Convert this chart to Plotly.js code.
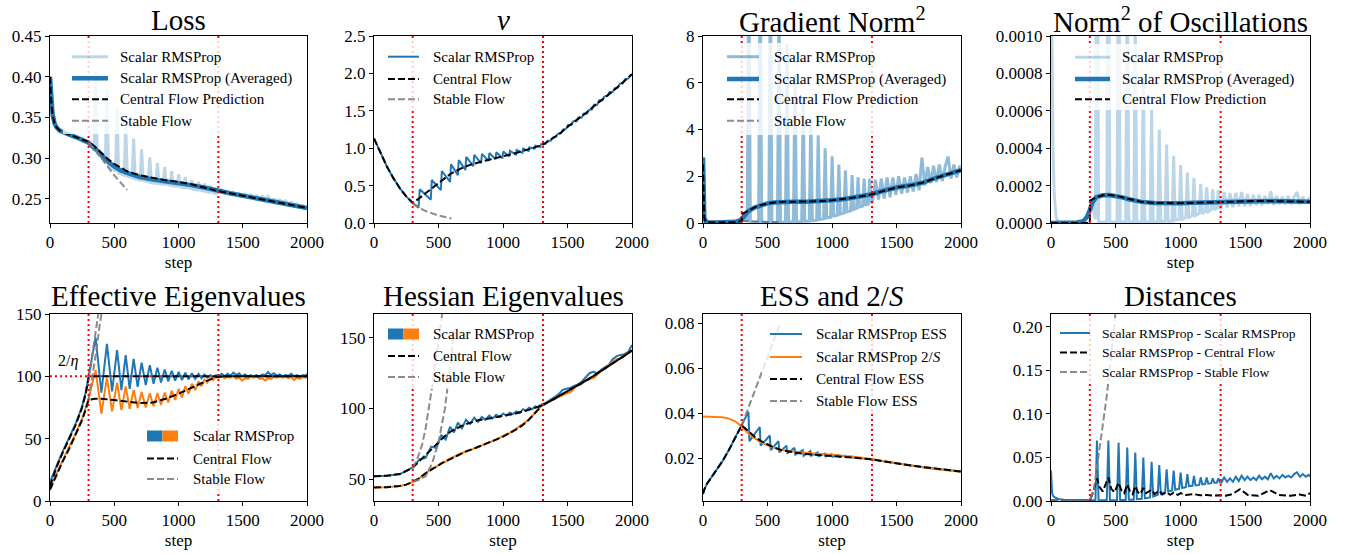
<!DOCTYPE html>
<html><head><meta charset="utf-8">
<script src="https://cdn.plot.ly/plotly-3.0.1.min.js"></script>
<style>html,body{margin:0;padding:0;background:#fff}#chart{width:1346px;height:554px}</style>
</head><body><div id="chart"></div>
<script>
// ---------------- data (step, value) ----------------
const XTICKS = [0, 500, 1000, 1500, 2000];
const XTICKTEXT = ['0', '500', '1000', '1500', '2000'];
const REGIME_STEPS = [300, 1310];

// Loss
const lossRaw = [[0,0.400],[5,0.382],[10,0.370],[20,0.354],[35,0.343],[50,0.338],[75,0.334],[100,0.332],[150,0.329],[200,0.326],[250,0.323],[300,0.319],[343,0.309],[355,0.406],[367,0.306],[431,0.296],[443,0.384],[455,0.291],[510,0.284],[522,0.361],[534,0.282],[577,0.279],[589,0.342],[601,0.278],[639,0.276],[651,0.324],[663,0.275],[701,0.273],[713,0.311],[725,0.273],[765,0.271],[777,0.301],[789,0.270],[824,0.269],[836,0.294],[848,0.269],[881,0.268],[893,0.289],[905,0.268],[935,0.267],[947,0.284],[959,0.266],[989,0.266],[1001,0.280],[1013,0.265],[1041,0.264],[1053,0.277],[1065,0.264],[1092,0.263],[1104,0.273],[1116,0.262],[1144,0.261],[1156,0.271],[1168,0.261],[1190,0.260],[1202,0.269],[1214,0.259],[1237,0.258],[1249,0.266],[1261,0.258],[1280,0.257],[1292,0.264],[1304,0.257],[1315,0.258],[1337,0.261],[1360,0.257],[1382,0.259],[1405,0.256],[1427,0.258],[1450,0.255],[1472,0.257],[1495,0.254],[1517,0.256],[1540,0.253],[1562,0.255],[1585,0.252],[1607,0.254],[1630,0.251],[1652,0.253],[1675,0.250],[1697,0.253],[1720,0.248],[1742,0.250],[1765,0.247],[1787,0.249],[1810,0.246],[1832,0.248],[1855,0.244],[1877,0.246],[1900,0.243],[1922,0.244],[1945,0.241],[1967,0.242],[1990,0.239],[2000,0.240]];
const lossAvg = [[0,0.400],[5,0.382],[10,0.370],[20,0.354],[35,0.343],[50,0.338],[75,0.334],[100,0.332],[150,0.329],[200,0.326],[250,0.323],[300,0.319],[350,0.312],[400,0.304],[450,0.296],[500,0.290],[550,0.285],[600,0.282],[700,0.277],[800,0.274],[900,0.272],[1000,0.270],[1100,0.267],[1200,0.264],[1300,0.260],[1400,0.257],[1500,0.254],[1600,0.251],[1700,0.248],[1800,0.245],[1900,0.242],[2000,0.239]];
const lossCentral = [[0,0.400],[5,0.382],[10,0.370],[20,0.354],[35,0.343],[50,0.338],[75,0.334],[100,0.332],[150,0.329],[200,0.326],[250,0.323],[300,0.320],[350,0.314],[400,0.306],[450,0.299],[500,0.293],[550,0.288],[600,0.284],[700,0.279],[800,0.276],[900,0.273],[1000,0.271],[1100,0.268],[1200,0.264],[1300,0.260],[1400,0.257],[1500,0.254],[1600,0.251],[1700,0.248],[1800,0.245],[1900,0.242],[2000,0.239]];
const lossStable = [[300,0.319],[350,0.311],[400,0.300],[450,0.289],[500,0.279],[550,0.270],[600,0.261]];

// nu
const nuRaw = [[0,1.13],[50,0.94],[100,0.755],[150,0.60],[200,0.465],[250,0.355],[300,0.265],[345,0.205],[355,0.45],[440,0.31],[448,0.575],[518,0.44],[526,0.695],[590,0.55],[597,0.785],[650,0.64],[657,0.84],[708,0.71],[715,0.885],[770,0.76],[777,0.91],[830,0.80],[837,0.925],[888,0.83],[894,0.935],[942,0.85],[948,0.945],[996,0.865],[1002,0.955],[1048,0.89],[1054,0.965],[1100,0.915],[1106,0.975],[1150,0.94],[1156,0.995],[1198,0.965],[1204,1.01],[1245,0.995],[1251,1.035],[1290,1.02],[1296,1.055],[1330,1.06],[1345,1.10],[1370,1.10],[1385,1.14],[1410,1.15],[1425,1.19],[1450,1.20],[1465,1.25],[1490,1.26],[1505,1.31],[1530,1.31],[1545,1.36],[1570,1.36],[1585,1.41],[1610,1.41],[1625,1.46],[1650,1.46],[1665,1.51],[1690,1.52],[1705,1.58],[1730,1.58],[1745,1.64],[1770,1.64],[1785,1.69],[1810,1.70],[1825,1.75],[1850,1.75],[1865,1.80],[1890,1.81],[1905,1.86],[1930,1.87],[1945,1.92],[1970,1.93],[1985,1.97],[2000,1.99]];
const nuCentral = [[0,1.13],[50,0.94],[100,0.755],[150,0.60],[200,0.465],[250,0.355],[300,0.27],[350,0.33],[400,0.40],[450,0.465],[500,0.53],[550,0.60],[600,0.665],[650,0.71],[700,0.75],[750,0.78],[800,0.81],[850,0.83],[900,0.85],[950,0.87],[1000,0.885],[1050,0.91],[1100,0.935],[1150,0.96],[1200,0.985],[1250,1.01],[1300,1.04],[1350,1.09],[1400,1.15],[1450,1.21],[1500,1.285],[1550,1.35],[1600,1.41],[1650,1.48],[1700,1.555],[1750,1.62],[1800,1.69],[1850,1.76],[1900,1.835],[1950,1.91],[2000,1.99]];
const nuStable = [[300,0.265],[350,0.205],[400,0.16],[450,0.125],[500,0.10],[550,0.08],[600,0.06]];

// Gradient norm^2
const gradRaw = [[0,2.8],[3,1.6],[6,0.7],[10,0.25],[20,0.08],[40,0.03],[100,0.02],[200,0.03],[250,0.05],[280,0.09],[300,0.12],[320,0.2],[343,0.08],[355,12],[367,0.02],[431,0.02],[443,12],[455,0.02],[510,0.02],[522,11],[534,0.02],[577,0.03],[589,9.8],[601,0.03],[639,0.03],[651,7.65],[663,0.05],[701,0.05],[713,6.4],[725,0.05],[765,0.06],[777,5.3],[789,0.08],[824,0.08],[836,4.5],[848,0.1],[881,0.12],[893,3.75],[905,0.15],[935,0.18],[947,3.2],[959,0.22],[989,0.25],[1001,2.85],[1013,0.3],[1041,0.33],[1053,2.5],[1065,0.38],[1092,0.42],[1104,2.25],[1116,0.48],[1144,0.52],[1156,2.05],[1168,0.58],[1190,0.62],[1202,1.95],[1214,0.68],[1237,0.72],[1249,1.9],[1261,0.78],[1280,0.8],[1292,1.9],[1304,0.85],[1315,0.95],[1337,1.85],[1360,1.0],[1382,1.9],[1405,1.05],[1427,1.95],[1450,1.1],[1472,1.95],[1495,1.2],[1517,2.0],[1540,1.25],[1562,1.95],[1585,1.3],[1607,2.0],[1630,1.35],[1652,2.1],[1675,1.4],[1697,2.8],[1720,1.6],[1742,2.4],[1765,1.7],[1787,2.45],[1810,1.75],[1832,2.5],[1855,1.8],[1877,2.4],[1900,2.85],[1922,1.9],[1945,2.5],[1967,1.95],[1990,2.45],[2000,2.2]];
const gradAvg = [[0,2.8],[3,1.6],[6,0.7],[10,0.25],[20,0.08],[40,0.03],[100,0.02],[200,0.03],[250,0.05],[280,0.1],[300,0.17],[320,0.3],[350,0.5],[400,0.66],[450,0.77],[500,0.84],[550,0.88],[600,0.90],[700,0.91],[800,0.91],[900,0.93],[1000,0.97],[1100,1.03],[1200,1.11],[1300,1.22],[1400,1.38],[1500,1.52],[1600,1.60],[1700,1.72],[1800,1.92],[1900,2.08],[2000,2.26]];
const gradCentral = [[0,2.5],[3,1.5],[6,0.6],[10,0.22],[20,0.07],[40,0.03],[100,0.02],[200,0.025],[250,0.04],[290,0.07],[300,0.09],[301,0.38],[350,0.53],[400,0.67],[450,0.77],[500,0.84],[550,0.88],[600,0.90],[700,0.91],[800,0.91],[900,0.93],[1000,0.97],[1100,1.03],[1200,1.11],[1300,1.22],[1400,1.38],[1500,1.52],[1600,1.60],[1700,1.72],[1800,1.92],[1900,2.08],[2000,2.26]];
const gradStable = [[300,0.09],[400,0.06],[500,0.04],[600,0.03]];

// Norm^2 of oscillations
const oscRaw = [[0,0.0016],[8,0.0008],[15,0.0004],[25,0.00015],[40,0.00003],[60,0],[150,0],[200,0.000004],[250,0.00001],[280,0.00003],[300,0.00006],[320,0.0001],[343,0.00002],[355,0.003],[367,0.000005],[431,0.000005],[443,0.0025],[455,0.000005],[510,0.000005],[522,0.002],[534,0.000005],[577,0.000005],[589,0.0015],[601,0.000005],[639,0.000005],[651,0.0011],[663,0.000005],[701,0.000005],[713,0.00078],[725,0.000005],[765,0.000005],[777,0.00061],[789,0.000005],[824,0.000005],[836,0.0005],[848,0.000005],[881,0.00001],[893,0.00042],[905,0.00001],[935,0.00001],[947,0.00036],[959,0.000015],[989,0.00002],[1001,0.00031],[1013,0.00002],[1041,0.00003],[1053,0.00027],[1065,0.00003],[1092,0.00004],[1104,0.00024],[1116,0.00004],[1144,0.00005],[1156,0.00021],[1168,0.00005],[1190,0.00006],[1202,0.00019],[1214,0.00006],[1237,0.00007],[1249,0.00018],[1261,0.00007],[1280,0.00008],[1292,0.000175],[1304,0.00008],[1315,0.00008],[1337,0.000165],[1360,0.00008],[1382,0.00016],[1405,0.000085],[1427,0.00016],[1450,0.00009],[1472,0.000165],[1495,0.00009],[1517,0.000155],[1540,0.00009],[1562,0.00015],[1585,0.000095],[1607,0.00015],[1630,0.000095],[1652,0.000145],[1675,0.0001],[1697,0.00017],[1720,0.000095],[1742,0.000145],[1765,0.0001],[1787,0.00014],[1810,0.0001],[1832,0.000145],[1855,0.0001],[1877,0.00014],[1900,0.000165],[1922,0.0001],[1945,0.00014],[1967,0.000105],[1990,0.00013],[2000,0.00012]];
const oscAvg = [[0,0],[150,0],[200,0.000003],[250,0.00001],[280,0.000035],[300,0.00007],[320,0.00011],[350,0.000138],[400,0.000148],[450,0.00015],[500,0.000146],[550,0.000137],[600,0.000127],[700,0.000113],[800,0.000107],[900,0.000105],[1000,0.000106],[1100,0.000108],[1200,0.00011],[1300,0.000113],[1400,0.000116],[1500,0.000118],[1600,0.000118],[1700,0.000117],[1800,0.000116],[1900,0.000115],[2000,0.000113]];
const oscCentral = [[0,0],[300,0],[301,0.00012],[350,0.000138],[400,0.000148],[450,0.00015],[500,0.000146],[550,0.000137],[600,0.000127],[700,0.000113],[800,0.000107],[900,0.000105],[1000,0.000106],[1100,0.000108],[1200,0.00011],[1300,0.000113],[1400,0.000116],[1500,0.000118],[1600,0.000118],[1700,0.000117],[1800,0.000116],[1900,0.000115],[2000,0.000113]];

// Effective eigenvalues
const effTop = [[0,15],[25,22],[50,28],[100,40],[150,51],[200,62],[250,76],[280,88],[300,100],[355,131],[400,87],[443,126],[483,88],[522,121],[556,89],[589,117],[620,90],[651,114],[682,91.5],[713,111],[745,93],[777,109],[806,94],[836,107],[864,95],[893,105.5],[920,96],[947,104.5],[974,96.5],[1001,103.5],[1027,97],[1053,103],[1078,97.5],[1104,102.5],[1130,98],[1156,102],[1179,98.5],[1202,101.5],[1225,99],[1249,101],[1270,99],[1292,101],[1315,100],[1337,102],[1360,100],[1382,102],[1405,100.5],[1427,103],[1450,101],[1472,102.5],[1495,100],[1517,101.5],[1540,100],[1562,101],[1585,99.5],[1607,101],[1630,100],[1652,101.5],[1675,101],[1697,103.5],[1720,101],[1742,102.5],[1765,100.5],[1787,101.5],[1810,100],[1832,101],[1855,100.5],[1877,102],[1900,100],[1922,101],[1945,99.5],[1967,101],[1990,100.5],[2000,102]];
const effSecond = [[0,11],[25,17],[50,22],[100,33],[150,43],[200,54],[250,66],[280,75],[300,82],[355,105],[400,70],[443,99],[483,72],[522,95],[556,73],[589,92],[620,74],[651,89],[682,74.5],[713,87.5],[745,75],[777,86.5],[806,76],[836,86.5],[864,77],[893,87],[920,79],[947,88.5],[974,81],[1001,90],[1027,83],[1053,92],[1078,86],[1104,94],[1130,89],[1156,96],[1179,92],[1202,97.5],[1225,95],[1249,99],[1270,97],[1292,100],[1315,99],[1337,100],[1360,98.5],[1382,100],[1405,99],[1427,100.5],[1450,98],[1472,99],[1495,96.5],[1517,98.5],[1540,98],[1562,100],[1585,99],[1607,100],[1630,98],[1652,98.5],[1675,96.5],[1697,98.5],[1720,98],[1742,99.5],[1765,99],[1787,100],[1810,99],[1832,100],[1855,98.5],[1877,99.5],[1900,97],[1922,99],[1945,98],[1967,99.5],[1990,99],[2000,100]];
const effCentralTop = [[0,12],[25,20],[50,27],[100,39],[150,50],[200,61],[250,75],[280,87],[300,99],[310,100],[1000,100],[2000,100]];
const effCentralSecond = [[0,9],[25,15],[50,21],[100,32],[150,42],[200,53],[250,65],[280,74],[300,81],[350,82],[400,82],[500,81],[600,79.5],[700,78.5],[800,79],[900,82],[1000,86],[1100,91],[1200,95.5],[1300,99.5],[1350,100],[2000,100]];
const effStableTop = [[300,99],[320,110],[340,125],[360,140],[380,153]];
const effStableSecond = [[300,81],[330,100],[360,120],[385,140],[405,153]];
const EFF_THRESHOLD = 100; // 2/eta

// Hessian eigenvalues
const hessTop = [[0,52],[100,52.3],[200,53.5],[250,55.5],[300,58.5],[355,64],[400,65],[443,73],[483,72],[522,81],[556,78],[589,87],[620,83],[651,90],[682,86],[713,92],[745,89],[777,93.5],[806,90.5],[836,94],[864,92],[893,95],[920,93],[947,95.5],[974,94],[1001,96.5],[1027,95],[1053,97],[1078,96],[1104,98],[1130,97],[1156,99.5],[1179,98.5],[1202,100.5],[1225,99.5],[1249,101.5],[1270,101],[1292,102.5],[1330,104],[1370,106],[1400,108],[1430,110],[1460,113],[1490,114],[1520,114.5],[1550,116],[1580,117],[1610,119],[1640,122],[1670,125],[1700,126],[1730,125],[1760,127.5],[1790,129],[1820,131],[1850,135],[1880,137],[1910,138],[1940,138.5],[1970,140],[2000,145]];
const hessSecond = [[0,44],[100,44.2],[200,45],[250,46],[300,48],[350,50.5],[400,54],[450,57.5],[480,58.5],[520,61],[560,62.5],[600,65],[640,66.5],[680,68.5],[720,70],[760,71],[800,72.5],[850,74.5],[900,76.5],[950,78],[1000,80.5],[1050,82.5],[1100,85.5],[1150,88.5],[1200,92],[1250,97],[1300,102],[1350,104.5],[1400,107],[1450,109],[1500,111],[1530,112],[1560,115.5],[1600,117],[1650,120],[1680,121],[1710,122],[1740,125],[1780,127.5],[1820,130.5],[1850,133],[1880,135],[1910,135.5],[1940,137],[1970,139.5],[2000,141.5]];
const hessCentralTop = [[0,52],[100,52.3],[200,53.5],[250,55.5],[300,58],[350,62.5],[400,67],[450,71.5],[500,76],[550,80.5],[600,84],[650,86.5],[700,88.5],[750,90],[800,91.5],[900,93],[1000,94.5],[1100,96.5],[1200,99],[1300,102],[1400,107],[1500,112],[1600,117.5],[1700,123],[1800,129],[1900,135],[2000,141]];
const hessCentralSecond = [[0,44],[100,44.2],[200,45],[250,46],[300,48],[350,50.5],[400,54],[450,57],[500,60],[550,62.5],[600,64.5],[650,67],[700,69],[800,72.5],[900,76],[1000,80],[1100,85],[1150,88],[1200,92],[1250,97],[1300,102],[1400,107],[1500,112],[1600,117.5],[1700,123],[1800,129],[1900,135],[2000,141]];
const hessStableTop = [[300,58],[325,62],[350,68],[375,75],[400,86],[425,99],[450,115],[475,132],[500,148],[530,168]];
const hessStableSecond = [[300,48],[350,49.5],[400,52],[450,61],[500,76],[550,100],[590,130],[620,155]];

// ESS and 2/S
const essRaw = [[0,0.004],[10,0.006],[30,0.0085],[60,0.011],[100,0.0145],[150,0.0185],[200,0.0235],[250,0.029],[300,0.0345],[352,0.0405],[360,0.0275],[440,0.0338],[447,0.0255],[518,0.030],[525,0.0235],[585,0.0275],[592,0.0225],[647,0.0255],[654,0.022],[709,0.0245],[716,0.0215],[773,0.0235],[780,0.021],[832,0.023],[839,0.021],[889,0.0225],[896,0.0208],[943,0.022],[950,0.0207],[997,0.0217],[1004,0.0206],[1049,0.0214],[1056,0.0205],[1100,0.0211],[1107,0.0204],[1152,0.0207],[1159,0.0202],[1200,0.0201],[1300,0.0195],[1400,0.0185],[1500,0.0175],[1600,0.0168],[1700,0.016],[1800,0.0153],[1900,0.0146],[2000,0.014]];
const twoOverS = [[0,0.0385],[100,0.0384],[150,0.0381],[200,0.0375],[250,0.0363],[300,0.034],[350,0.031],[400,0.0288],[450,0.027],[500,0.0256],[550,0.0245],[600,0.0237],[700,0.0228],[800,0.0222],[900,0.0218],[1000,0.0214],[1100,0.021],[1200,0.0203],[1300,0.0196],[1400,0.0186],[1500,0.0176],[1600,0.0167],[1700,0.0159],[1800,0.0151],[1900,0.0145],[2000,0.0139]];
const essCentral = [[0,0.004],[10,0.006],[30,0.0085],[60,0.011],[100,0.0145],[150,0.0185],[200,0.0235],[250,0.029],[300,0.0345],[350,0.032],[400,0.0295],[450,0.0275],[500,0.026],[550,0.0247],[600,0.0237],[700,0.0225],[800,0.0218],[900,0.0213],[1000,0.021],[1100,0.0206],[1200,0.0201],[1300,0.0195],[1400,0.0185],[1500,0.0175],[1600,0.0168],[1700,0.016],[1800,0.0153],[1900,0.0146],[2000,0.014]];
const essStable = [[300,0.0345],[400,0.0495],[500,0.0648],[600,0.080]];

// Distances
const distRuns = [[0,0.035],[3,0.02],[8,0.01],[15,0.006],[30,0.004],[60,0.002],[100,0.0015],[300,0.001],[343,0.001],[355,0.0695],[367,0.001],[431,0.001],[443,0.0695],[455,0.001],[510,0.001],[522,0.067],[534,0.0012],[577,0.0012],[589,0.0615],[601,0.0015],[639,0.0015],[651,0.0556],[663,0.002],[701,0.0025],[713,0.050],[725,0.003],[765,0.004],[777,0.045],[789,0.005],[824,0.007],[836,0.0414],[848,0.008],[881,0.010],[893,0.0364],[905,0.011],[935,0.012],[947,0.035],[959,0.013],[989,0.014],[1001,0.0326],[1013,0.015],[1041,0.016],[1053,0.031],[1065,0.017],[1092,0.0175],[1104,0.0287],[1116,0.018],[1144,0.0185],[1156,0.0272],[1168,0.019],[1190,0.0195],[1202,0.027],[1214,0.02],[1237,0.0205],[1249,0.026],[1261,0.021],[1280,0.021],[1292,0.026],[1304,0.0215],[1315,0.021],[1337,0.027],[1360,0.022],[1382,0.026],[1405,0.022],[1427,0.028],[1450,0.023],[1472,0.029],[1495,0.024],[1517,0.028],[1540,0.024],[1562,0.027],[1585,0.024],[1607,0.029],[1630,0.025],[1652,0.028],[1675,0.025],[1697,0.032],[1720,0.026],[1742,0.029],[1765,0.026],[1787,0.030],[1810,0.027],[1832,0.029],[1855,0.027],[1877,0.031],[1900,0.033],[1922,0.028],[1945,0.031],[1967,0.028],[1990,0.030],[2000,0.028]];
const distCentral = [[0,0.001],[300,0.001],[320,0.008],[340,0.018],[355,0.026],[375,0.016],[400,0.011],[443,0.027],[465,0.014],[490,0.010],[522,0.021],[545,0.012],[565,0.009],[589,0.019],[610,0.011],[630,0.008],[651,0.017],[672,0.010],[690,0.008],[713,0.015],[735,0.009],[777,0.013],[800,0.008],[836,0.012],[860,0.0075],[893,0.010],[920,0.007],[947,0.0095],[980,0.007],[1001,0.009],[1040,0.0068],[1100,0.008],[1150,0.0065],[1200,0.007],[1250,0.0062],[1300,0.0065],[1350,0.006],[1400,0.008],[1460,0.0135],[1520,0.007],[1600,0.006],[1690,0.0125],[1760,0.007],[1850,0.006],[1920,0.0075],[1970,0.006],[2000,0.009]];
const distStable = [[0,0.001],[300,0.001],[330,0.012],[360,0.045],[400,0.085],[430,0.12],[460,0.16],[490,0.205],[497,0.215]];

// tick labels
const Y1_TICKS = [0.25,0.30,0.35,0.40,0.45], Y1_TEXT = ['0.25','0.30','0.35','0.40','0.45'];
const Y2_TICKS = [0,0.5,1,1.5,2,2.5], Y2_TEXT = ['0.0','0.5','1.0','1.5','2.0','2.5'];
const Y3_TICKS = [0,2,4,6,8], Y3_TEXT = ['0','2','4','6','8'];
const Y4_TICKS = [0,0.0002,0.0004,0.0006,0.0008,0.001], Y4_TEXT = ['0.0000','0.0002','0.0004','0.0006','0.0008','0.0010'];
const Y5_TICKS = [0,50,100,150], Y5_TEXT = ['0','50','100','150'];
const Y6_TICKS = [50,100,150], Y6_TEXT = ['50','100','150'];
const Y7_TICKS = [0.02,0.04,0.06,0.08], Y7_TEXT = ['0.02','0.04','0.06','0.08'];
const Y8_TICKS = [0,0.05,0.10,0.15,0.20], Y8_TEXT = ['0.00','0.05','0.10','0.15','0.20'];

// ---------------- styling & layout ----------------
const W = 1346, H = 554;
const FONT = 'Liberation Serif';
const BLUE = '#1f77b4', ORANGE = '#ff7f0e';
const LIGHT3 = 'rgba(31,119,180,0.3)', LIGHT5 = 'rgba(31,119,180,0.5)';
const GRAY = 'rgba(128,128,128,0.9)';
const DASH = '7px,3px';
const COLS = [[50,307],[374,632],[703,961],[1051,1310]];
const ROWS = [[36,223],[314,501]];

function tr(pairs, k, line) {
  return {type:'scatter', mode:'lines', x:pairs.map(p=>p[0]), y:pairs.map(p=>p[1]),
    xaxis: k===1?'x':'x'+k, yaxis: k===1?'y':'y'+k, line: line, hoverinfo:'skip', showlegend:false};
}
const rawL = c => ({color:c, width:3});
const avgL = {color:BLUE, width:4.5};
const cenL = {color:'#000', width:2, dash:DASH};
const stbL = {color:GRAY, width:2, dash:DASH};
const solid = c => ({color:c, width:2});

const data = [
  tr(lossRaw,1,rawL(LIGHT3)), tr(lossAvg,1,avgL), tr(lossCentral,1,cenL), tr(lossStable,1,stbL),
  tr(nuRaw,2,solid(BLUE)), tr(nuCentral,2,cenL), tr(nuStable,2,stbL),
  tr(gradStable,3,stbL), tr(gradRaw,3,rawL(LIGHT5)), tr(gradAvg,3,avgL), tr(gradCentral,3,cenL),
  tr(oscRaw,4,rawL(LIGHT3)), tr(oscAvg,4,avgL), tr(oscCentral,4,cenL),
  tr(effTop,5,solid(BLUE)), tr(effSecond,5,solid(ORANGE)), tr(effCentralTop,5,cenL), tr(effCentralSecond,5,cenL), tr(effStableTop,5,stbL), tr(effStableSecond,5,stbL),
  tr(hessTop,6,solid(BLUE)), tr(hessSecond,6,solid(ORANGE)), tr(hessCentralTop,6,cenL), tr(hessCentralSecond,6,cenL), tr(hessStableTop,6,stbL), tr(hessStableSecond,6,stbL),
  tr(essRaw,7,solid(BLUE)), tr(twoOverS,7,solid(ORANGE)), tr(essCentral,7,cenL), tr(essStable,7,stbL),
  tr(distRuns,8,solid(BLUE)), tr(distCentral,8,cenL), tr(distStable,8,stbL)
];

const layout = {width:W, height:H, margin:{l:0,r:0,t:0,b:0}, paper_bgcolor:'#fff', plot_bgcolor:'#fff',
  showlegend:false, font:{family:FONT, color:'#000', size:17}, shapes:[], annotations:[]};

const yInfo = [
  [[0.2205,0.45],Y1_TICKS,Y1_TEXT],[[0,2.5],Y2_TICKS,Y2_TEXT],[[0,8],Y3_TICKS,Y3_TEXT],[[0,0.001],Y4_TICKS,Y4_TEXT],
  [[0,150],Y5_TICKS,Y5_TEXT],[[34.4,167],Y6_TICKS,Y6_TEXT],[[0.0009,0.084],Y7_TICKS,Y7_TEXT],[[0,0.2149],Y8_TICKS,Y8_TEXT]
];
const withStep = [true,false,false,true,true,true,true,true];
const TITLES = ['Loss','<i>ν</i>','Gradient Norm<sup>2</sup>','Norm<sup>2</sup> of Oscillations',
  'Effective Eigenvalues','Hessian Eigenvalues','ESS and 2/<i>S</i>','Distances'];

const base = {showline:true, mirror:true, linecolor:'#000', linewidth:1, ticks:'outside', ticklen:4, tickwidth:1,
  tickcolor:'#000', showgrid:false, zeroline:false, fixedrange:true, tickfont:{family:FONT, size:17, color:'#000'}};

for (let k=1;k<=8;k++){
  const c = COLS[(k-1)%4], r = ROWS[k<=4?0:1];
  const xs = k===1?'':String(k);
  const xa = Object.assign({}, base, {domain:[c[0]/W, c[1]/W], range:[0,2000], anchor:'y'+xs,
    tickmode:'array', tickvals:XTICKS, ticktext:XTICKTEXT});
  if (withStep[k-1]) xa.title = {text:'step', font:{family:FONT,size:17,color:'#000'}, standoff:4};
  layout['xaxis'+xs] = xa;
  const yi = yInfo[k-1];
  layout['yaxis'+xs] = Object.assign({}, base, {domain:[1-r[1]/H, 1-r[0]/H], range:yi[0], anchor:'x'+xs,
    tickmode:'array', tickvals:yi[1], ticktext:yi[2]});
  // regime boundaries
  REGIME_STEPS.forEach(s => layout.shapes.push({type:'line', layer:'above', xref:'x'+xs, yref:'y'+xs+' domain',
    x0:s, x1:s, y0:0, y1:1, line:{color:'#ff0000', width:2, dash:'2px,3px'}}));
  const tcy = k<=4 ? 20.5 : r[0]-18;
  layout.annotations.push({xref:'paper', yref:'paper', x:(c[0]+c[1])/2/W, y:1-tcy/H, xanchor:'center', yanchor:'middle',
    text:TITLES[k-1], showarrow:false, font:{family:FONT, size:29, color:'#000'}});
}
// 2/eta threshold line
layout.shapes.unshift({type:'line', layer:'below', xref:'x5', yref:'y5', x0:0, x1:2000, y0:EFF_THRESHOLD, y1:EFF_THRESHOLD,
  line:{color:'#ff0000', width:2, dash:'2px,3px'}});
layout.annotations.push({xref:'x5', yref:'y5', x:140, y:112, text:'2/<i>η</i>', showarrow:false,
  font:{family:FONT, size:16, color:'#000'}, xanchor:'center', yanchor:'middle'});

// ---------------- legends (drawn as shapes + text) ----------------
const px = v => v/W, py = v => 1 - v/H;
function legend(box, hx, tx, rows, fs){
  layout.shapes.push({type:'rect', layer:'above', xref:'paper', yref:'paper', x0:px(box[0]), x1:px(box[2]),
    y0:py(box[3]), y1:py(box[1]), fillcolor:'rgba(255,255,255,0.8)', line:{width:0}});
  rows.forEach(r => {
    if (r.patch) {
      const mid = (hx[0]+hx[1])/2;
      layout.shapes.push({type:'rect', layer:'above', xref:'paper', yref:'paper', x0:px(hx[0]), x1:px(mid),
        y0:py(r.y+5.5), y1:py(r.y-5.5), fillcolor:BLUE, line:{width:0}});
      layout.shapes.push({type:'rect', layer:'above', xref:'paper', yref:'paper', x0:px(mid), x1:px(hx[1]),
        y0:py(r.y+5.5), y1:py(r.y-5.5), fillcolor:ORANGE, line:{width:0}});
    } else {
      layout.shapes.push({type:'line', layer:'above', xref:'paper', yref:'paper', x0:px(hx[0]), x1:px(hx[1]),
        y0:py(r.y), y1:py(r.y), line:r.line});
    }
    layout.annotations.push({xref:'paper', yref:'paper', x:px(tx), y:py(r.y), xanchor:'left', yanchor:'middle',
      text:r.text, showarrow:false, font:{family:FONT, size:fs, color:'#000'}});
  });
}
legend([63,39,300,134],[72,108],118,[
  {y:56.7,line:rawL(LIGHT3),text:'Scalar RMSProp'},{y:78.3,line:avgL,text:'Scalar RMSProp (Averaged)'},
  {y:99.3,line:cenL,text:'Central Flow Prediction'},{y:120.7,line:stbL,text:'Stable Flow'}],15);
legend([380,40,540,111],[388,419],431,[
  {y:56.7,line:solid(BLUE),text:'Scalar RMSProp'},{y:79,line:cenL,text:'Central Flow'},{y:99.3,line:stbL,text:'Stable Flow'}],15);
legend([719,43,955,135],[727,759],772,[
  {y:56.7,line:rawL(LIGHT5),text:'Scalar RMSProp'},{y:79,line:avgL,text:'Scalar RMSProp (Averaged)'},
  {y:99.3,line:cenL,text:'Central Flow Prediction'},{y:120.7,line:stbL,text:'Stable Flow'}],15);
legend([1066,44,1302,110],[1075,1110],1120,[
  {y:57.3,line:rawL(LIGHT3),text:'Scalar RMSProp'},{y:79,line:avgL,text:'Scalar RMSProp (Averaged)'},
  {y:99.3,line:cenL,text:'Central Flow Prediction'}],15);
legend([139,421,300,492],[147,178],191,[
  {y:436,patch:true,text:'Scalar RMSProp'},{y:458.5,line:cenL,text:'Central Flow'},{y:479,line:stbL,text:'Stable Flow'}],15);
legend([380,318,542,389],[388,419],431,[
  {y:334,patch:true,text:'Scalar RMSProp'},{y:356,line:cenL,text:'Central Flow'},{y:377,line:stbL,text:'Stable Flow'}],15);
legend([762,318,958,411],[770,802],814,[
  {y:334,line:solid(BLUE),text:'Scalar RMSProp ESS'},{y:357,line:solid(ORANGE),text:'Scalar RMSProp 2/<i>S</i>'},
  {y:379,line:cenL,text:'Central Flow ESS'},{y:401,line:stbL,text:'Stable Flow ESS'}],15);
legend([1053,318,1303,384],[1060,1090],1100,[
  {y:333,line:solid(BLUE),text:'Scalar RMSProp - Scalar RMSProp'},{y:352.5,line:cenL,text:'Scalar RMSProp - Central Flow'},
  {y:372,line:stbL,text:'Scalar RMSProp - Stable Flow'}],13.5);

Plotly.newPlot('chart', data, layout, {staticPlot:true, displayModeBar:false});
</script></body></html>
